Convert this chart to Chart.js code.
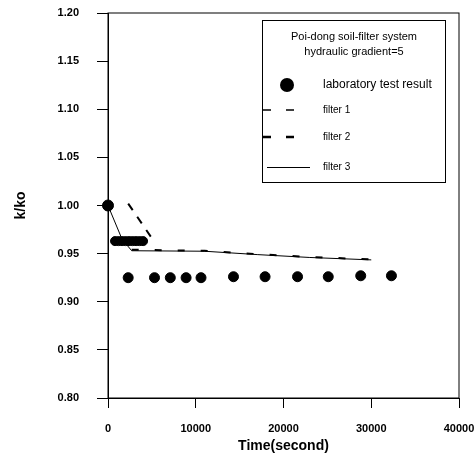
<!DOCTYPE html>
<html>
<head>
<meta charset="utf-8">
<script src="https://cdn.jsdelivr.net/npm/chart.js@4"></script>
<style>
  body { margin: 0; background: #fff; }
  canvas { display: block; }
</style>
</head>
<body>
<canvas id="chart" width="476" height="464"></canvas>
<script>
// lab test points (time in seconds, k/ko)
const labTime = [0, 800, 1200, 1600, 2000, 2400, 2800, 3200, 3600, 4000,
  2300, 5300, 7100, 8900, 10600, 14300, 17900, 21600, 25100, 28800, 32300];
const labK = [1.0, 0.963, 0.963, 0.963, 0.963, 0.963, 0.963, 0.963, 0.963, 0.963,
  0.925, 0.925, 0.925, 0.925, 0.925, 0.926, 0.926, 0.926, 0.926, 0.927, 0.927];

const filter1Time = [2700, 11000, 17000, 23000, 30000];
const filter1K = [0.954, 0.953, 0.9495, 0.9465, 0.944];

const filter2Time = [2300, 5000, 5400];
const filter2K = [1.002, 0.966, 0.961];

const filter3Time = [0, 1600, 2700, 11000, 17000, 23000, 30000];
const filter3K = [1.0, 0.965, 0.953, 0.9525, 0.949, 0.946, 0.9435];

const xTicks = [0, 10000, 20000, 30000, 40000];
const yTicks = [0.80, 0.85, 0.90, 0.95, 1.00, 1.05, 1.10, 1.15, 1.20];

const toPoints = (xs, ys) => xs.map((x, i) => ({ x: x, y: ys[i] }));

const narrow = "'Liberation Sans Narrow', 'Liberation Sans', Arial, sans-serif";

// frame round the plot and the legend box inside it
const framePlugin = {
  id: "frame",
  afterDraw(chart) {
    const { ctx, chartArea: a } = chart;
    ctx.save();
    ctx.strokeStyle = "#000";
    ctx.lineWidth = 1;
    ctx.strokeRect(a.left, a.top, a.right - a.left, a.bottom - a.top);

    // legend
    const lx = 262, ly = 20, lw = 183, lh = 162;
    ctx.fillStyle = "#fff";
    ctx.fillRect(lx, ly, lw, lh);
    ctx.strokeRect(lx + 0.5, ly + 0.5, lw, lh);

    ctx.fillStyle = "#000";
    ctx.font = "11px " + narrow;
    ctx.textAlign = "center";
    ctx.textBaseline = "middle";
    ctx.fillText("Poi-dong soil-filter system", 354, 37);
    ctx.fillText("hydraulic gradient=5", 354, 52);

    ctx.beginPath();
    ctx.arc(287, 85, 7, 0, Math.PI * 2);
    ctx.fill();

    ctx.lineWidth = 1.5;
    ctx.setLineDash([8, 15]);
    ctx.beginPath(); ctx.moveTo(263, 110); ctx.lineTo(300, 110); ctx.stroke();
    ctx.lineWidth = 2.5;
    ctx.beginPath(); ctx.moveTo(263, 137); ctx.lineTo(300, 137); ctx.stroke();
    ctx.lineWidth = 1;
    ctx.setLineDash([]);
    ctx.beginPath(); ctx.moveTo(267, 167.5); ctx.lineTo(310, 167.5); ctx.stroke();

    ctx.textAlign = "left";
    ctx.font = "12px " + narrow;
    ctx.fillText("laboratory test result", 323, 85);
    ctx.font = "10px " + narrow;
    ctx.fillText("filter 1", 323, 110);
    ctx.fillText("filter 2", 323, 137);
    ctx.fillText("filter 3", 323, 167);
    ctx.restore();
  }
};

new Chart(document.getElementById("chart"), {
  type: "scatter",
  data: {
    datasets: [
      {
        label: "laboratory test result",
        data: toPoints(labTime, labK),
        backgroundColor: "#000",
        borderColor: "#000",
        pointRadius: labK.map((k, i) => i === 0 ? 5.5 : (k > 0.95 ? 4.5 : 5)),
        showLine: false,
        clip: false,
        order: 0
      },
      {
        label: "filter 1",
        data: toPoints(filter1Time, filter1K),
        showLine: true,
        borderColor: "#000",
        borderWidth: 2,
        borderDash: [7, 16],
        pointRadius: 0,
        order: 1
      },
      {
        label: "filter 2",
        data: toPoints(filter2Time, filter2K),
        showLine: true,
        borderColor: "#000",
        borderWidth: 2,
        borderDash: [8, 8],
        pointRadius: 0,
        order: 2
      },
      {
        label: "filter 3",
        data: toPoints(filter3Time, filter3K),
        showLine: true,
        borderColor: "#000",
        borderWidth: 1,
        pointRadius: 0,
        order: 3
      }
    ]
  },
  options: {
    responsive: false,
    animation: false,
    layout: { padding: { left: 0, right: 17, top: 13, bottom: 0 } },
    plugins: {
      legend: { display: false },
      tooltip: { enabled: false }
    },
    scales: {
      x: {
        type: "linear",
        min: 0,
        max: 40000,
        afterBuildTicks: (scale) => { scale.ticks = xTicks.map(v => ({ value: v })); },
        afterFit: (scale) => {
          scale.height = 66;
          scale.paddingLeft = 0;
          scale.paddingRight = 0;
        },
        grid: { drawOnChartArea: false, drawTicks: true, tickLength: 10, color: "#000" },
        border: { display: true, color: "#000" },
        ticks: {
          color: "#000",
          padding: 14,
          font: { family: narrow, size: 11, weight: "bold" },
          callback: (v) => String(v)
        },
        title: {
          display: true,
          text: "Time(second)",
          color: "#000",
          font: { family: "'Liberation Sans', Arial, sans-serif", size: 14, weight: "bold" },
          padding: { top: 0, bottom: 9 }
        }
      },
      y: {
        type: "linear",
        min: 0.8,
        max: 1.2,
        afterBuildTicks: (scale) => { scale.ticks = yTicks.map(v => ({ value: v })); },
        afterFit: (scale) => {
          scale.width = 108;
          scale.paddingTop = 0;
          scale.paddingBottom = 0;
        },
        grid: { drawOnChartArea: false, drawTicks: true, tickLength: 11, color: "#000" },
        border: { display: true, color: "#000" },
        ticks: {
          color: "#000",
          padding: 18,
          font: { family: narrow, size: 11, weight: "bold" },
          callback: (v) => Number(v).toFixed(2)
        },
        title: {
          display: true,
          text: "k/ko",
          color: "#000",
          font: { family: "'Liberation Sans', Arial, sans-serif", size: 14, weight: "bold" },
          padding: { top: 13, bottom: 0 }
        }
      }
    }
  },
  plugins: [framePlugin]
});
</script>
</body>
</html>
